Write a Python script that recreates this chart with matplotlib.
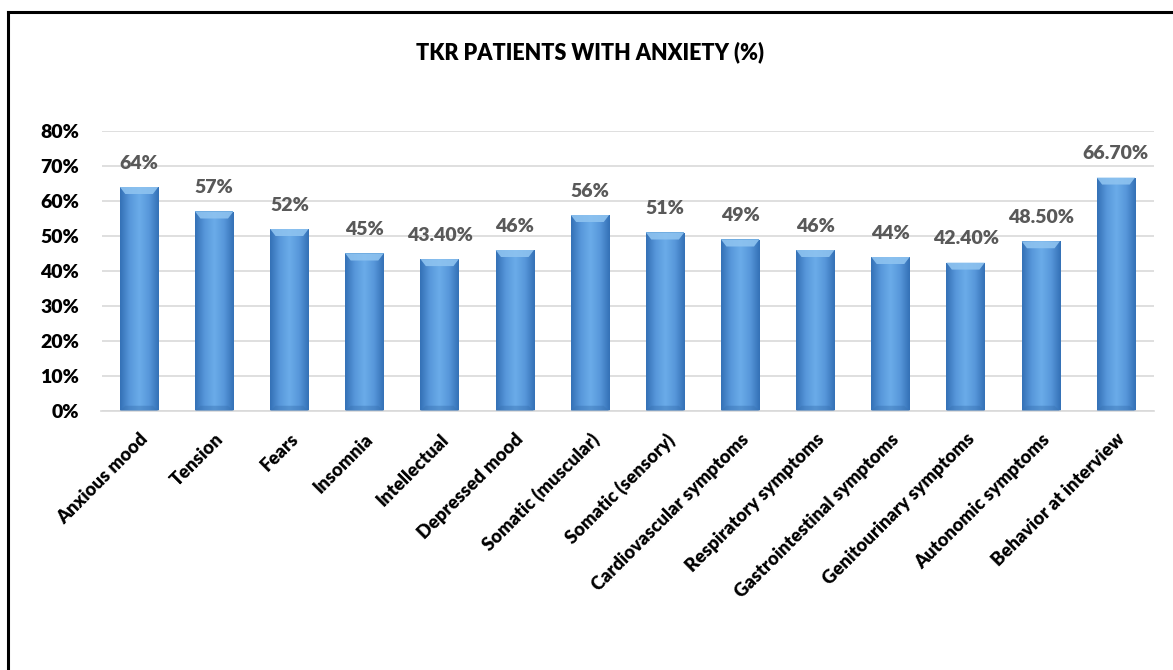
import matplotlib
matplotlib.use("Agg")
import matplotlib.pyplot as plt
import numpy as np
from matplotlib.colors import LinearSegmentedColormap
from matplotlib.lines import Line2D

categories = ["Anxious mood", "Tension", "Fears", "Insomnia", "Intellectual",
              "Depressed mood", "Somatic (muscular)", "Somatic (sensory)",
              "Cardiovascular symptoms", "Respiratory symptoms",
              "Gastrointestinal symptoms", "Genitourinary symptoms",
              "Autonomic symptoms", "Behavior at interview"]
values = [64, 57, 52, 45, 43.4, 46, 56, 51, 49, 46, 44, 42.4, 48.5, 66.7]
value_labels = ["64%", "57%", "52%", "45%", "43.40%", "46%", "56%", "51%",
                "49%", "46%", "44%", "42.40%", "48.50%", "66.70%"]
yticks = [0, 10, 20, 30, 40, 50, 60, 70, 80]
title = "TKR PATIENTS WITH ANXIETY (%)"

plt.rcParams['font.family'] = ['Lato', 'DejaVu Sans']
W = "heavy"

fig = plt.figure(figsize=(11.73, 6.70), dpi=100)
ax = fig.add_axes([101.5/1173, 1 - 411/670, (1153.5-101.5)/1173, (411-131)/670])

x = np.arange(len(categories))
bars = ax.bar(x, values, width=0.51, color="#5B9BD5", edgecolor="none", zorder=2)

cmap = LinearSegmentedColormap.from_list(
    "bevel", ["#3370B5", "#5797DA", "#6AACE9", "#5797DA", "#3370B5"])
grad = np.linspace(0, 1, 256).reshape(1, -1)
for b in bars:
    x0, y0 = b.get_x(), b.get_y()
    w, h = b.get_width(), b.get_height()
    im = ax.imshow(grad, cmap=cmap, aspect="auto",
                   extent=(x0, x0 + w, y0, y0 + h), zorder=2.5,
                   interpolation="bicubic")
    im.set_clip_path(b)
    # top bevel highlight
    ax.add_patch(plt.Polygon([(x0, y0 + h), (x0 + w, y0 + h),
                              (x0 + w * 0.86, y0 + h - 2.0), (x0 + w * 0.14, y0 + h - 2.0)],
                             closed=True, color="#8EC3F0", alpha=0.9, zorder=3, lw=0))
    # bottom bevel shade
    ax.add_patch(plt.Polygon([(x0, y0), (x0 + w, y0),
                              (x0 + w * 0.86, y0 + 1.5), (x0 + w * 0.14, y0 + 1.5)],
                             closed=True, color="#3A74B4", alpha=0.45, zorder=3, lw=0))

for xi, v, lab in zip(x, values, value_labels):
    ax.text(xi, v + 6.8, lab, ha="center", va="center", fontsize=14,
            fontweight=W, color="#595959")

ax.set_xlim(-0.5, len(categories) - 0.5)
ax.set_ylim(0, 80)
ax.set_yticks(yticks)
ax.set_yticklabels([f"{t}%" for t in yticks], fontsize=14, fontweight=W)
ax.set_xticks(x)
ax.set_xticklabels(categories, rotation=45, ha="right", rotation_mode="anchor",
                   fontsize=13.2, fontweight=W)
ax.tick_params(axis="both", length=0)
ax.tick_params(axis="y", pad=16)
ax.tick_params(axis="x", pad=14)
ax.grid(axis="y", color="#D9D9D9", linewidth=1.2, zorder=0)
ax.set_axisbelow(True)
for s in ["top", "right", "left"]:
    ax.spines[s].set_visible(False)
ax.spines["bottom"].set_color("#D9D9D9")
ax.spines["bottom"].set_linewidth(1.2)

fig.text(590/1173, 1 - 52/670, title, ha="center", va="center",
         fontsize=15.5, fontweight=W)

# outer frame (left and top visible)
fig.add_artist(Line2D([7.5/1173, 7.5/1173], [0, 1 - 12/670], color="black", lw=2.2,
                      transform=fig.transFigure))
fig.add_artist(Line2D([7.5/1173, 1], [1 - 12/670, 1 - 12/670], color="black", lw=2.2,
                      transform=fig.transFigure))

fig.savefig("out.png", dpi=100)
